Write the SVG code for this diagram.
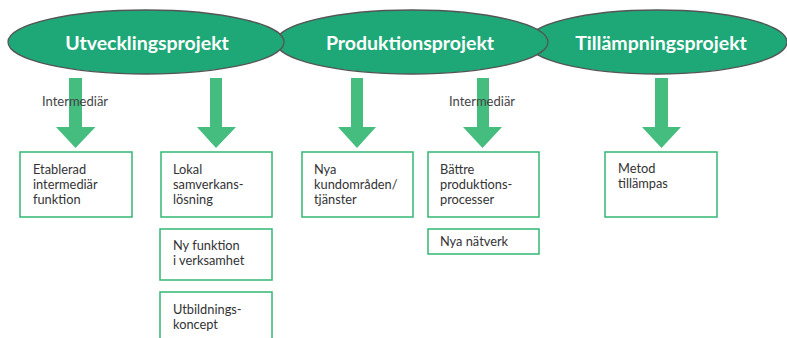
<svg xmlns="http://www.w3.org/2000/svg" width="787" height="338" viewBox="0 0 787 338">
<style>
.ell{fill:#1ea878;stroke:#555;stroke-width:1.3}
.et{fill:#fff;font-family:Lato,"Open Sans",sans-serif;font-weight:bold;font-size:19.5px;text-anchor:middle}
.arr{fill:#45bd7f}
.box{fill:#fff;stroke:#33b874;stroke-width:1.5}
.bt{fill:#333;font-family:Lato,"Open Sans",sans-serif;font-size:12.8px}
.lbl{fill:#444;font-family:Lato,"Open Sans",sans-serif;font-size:13px}
</style>
<rect width="787" height="338" fill="#fff"/>
<g id="ellipses">
<g id="tillampningsprojekt"><ellipse class="ell" cx="657" cy="42" rx="130" ry="32"/><text class="et" x="661" y="50">Tillämpningsprojekt</text></g>
<g id="produktionsprojekt"><ellipse class="ell" cx="412" cy="42" rx="136" ry="32"/><text class="et" x="410" y="50">Produktionsprojekt</text></g>
<g id="utvecklingsprojekt"><ellipse class="ell" cx="146" cy="42" rx="138" ry="32"/><text class="et" x="147" y="50">Utvecklingsprojekt</text></g>
</g>
<g id="connectors">
<path class="arr" d="M69,78H82V127H95.5L75.5,148L56,127H69Z"/>
<path class="arr" d="M210,78H222V127H236L216,148L197,127H210Z"/>
<path class="arr" d="M351,78H363V127H376L357,148L338,127H351Z"/>
<path class="arr" d="M477,78H489V127H502L482.5,148L463,127H477Z"/>
<path class="arr" d="M655,78H668V127H681L661.5,148L642,127H655Z"/>
<text class="lbl" x="42" y="106">Intermediär</text>
<text class="lbl" x="449" y="106">Intermediär</text>
</g>
<g id="box-etablerad"><rect class="box" x="20" y="152" width="112" height="65"/><text class="bt" x="33" y="174">Etablerad<tspan x="33" dy="15">intermediär</tspan><tspan x="33" dy="15">funktion</tspan></text></g>
<g id="box-lokal"><rect class="box" x="161" y="152" width="111" height="65"/><text class="bt" x="173" y="174">Lokal<tspan x="173" dy="15">samverkans-</tspan><tspan x="173" dy="15">lösning</tspan></text></g>
<g id="box-nyfunktion"><rect class="box" x="160" y="229" width="112" height="51"/><text class="bt" x="173" y="250">Ny funktion<tspan x="173" dy="15">i verksamhet</tspan></text></g>
<g id="box-utbildning"><rect class="box" x="160" y="292" width="112" height="60"/><text class="bt" x="173" y="314">Utbildnings-<tspan x="173" dy="15">koncept</tspan></text></g>
<g id="box-nya-kund"><rect class="box" x="302" y="152" width="111" height="65"/><text class="bt" x="314" y="174">Nya<tspan x="314" dy="15">kundområden/</tspan><tspan x="314" dy="15">tjänster</tspan></text></g>
<g id="box-battre"><rect class="box" x="428" y="152" width="111" height="65"/><text class="bt" x="440" y="174">Bättre<tspan x="440" dy="15">produktions-</tspan><tspan x="440" dy="15">processer</tspan></text></g>
<g id="box-natverk"><rect class="box" x="428" y="229" width="111" height="25"/><text class="bt" x="440" y="246">Nya nätverk</text></g>
<g id="box-metod"><rect class="box" x="605" y="152" width="112" height="65"/><text class="bt" x="618" y="173">Metod<tspan x="618" dy="15">tillämpas</tspan></text></g>
</svg>
